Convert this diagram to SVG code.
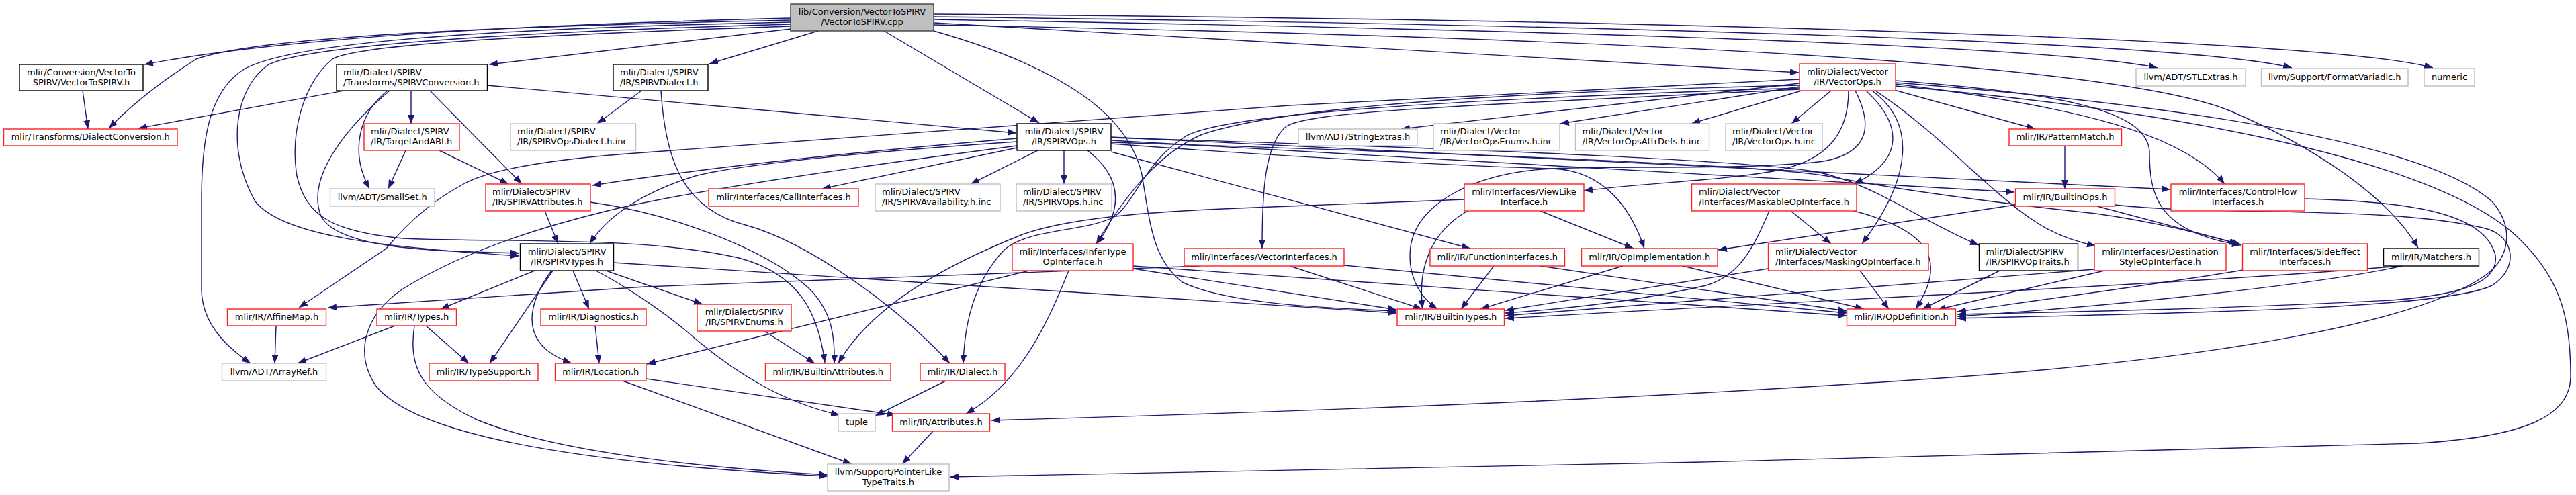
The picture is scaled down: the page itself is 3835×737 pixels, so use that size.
<svg xmlns="http://www.w3.org/2000/svg" width="3835" height="737" viewBox="0 0 3835 737">
<style>
.e path{fill:none;stroke:#191970;stroke-width:1.4;marker-end:url(#ah)}
rect{fill:#fff;stroke-width:1.4}
.k rect{stroke:#000}
.r rect{stroke:#ff2020}
.g rect{stroke:#bfbfbf}
.t rect{fill:#bfbfbf;stroke:#404040}
text{font-family:"DejaVu Sans","Liberation Sans",sans-serif;font-size:13px;fill:#000}
.c{text-anchor:middle}
</style>
<defs>
<marker id="ah" markerUnits="userSpaceOnUse" markerWidth="13" markerHeight="10" refX="13" refY="5" orient="auto">
<path d="M0,0 L13,5 L0,10 z" fill="#191970"/>
</marker>
</defs>
<rect x="0" y="0" width="3835" height="737" style="fill:#fff;stroke:none"/>
<g id="edges" class="e">
<path d="M1177,27 C800,36 420,56 215,96"/>
<path d="M1177,30 C700,40 380,56 292,88 C245,118 200,152 162,191"/>
<path d="M1177,43 L728,96"/>
<path d="M1218,46 L1056,95"/>
<path d="M1316,46 L1547,183"/>
<path d="M1390,34 L2678,108"/>
<path d="M1390,29 C2300,44 3060,68 3212,101"/>
<path d="M1390,25 C2400,37 3260,62 3412,101"/>
<path d="M1390,21 C2500,30 3470,58 3622,101"/>
<path d="M1390,37 C2400,56 3140,92 3320,165 C3460,225 3560,300 3600,369"/>
<path d="M1177,33 C650,44 430,68 365,102 C310,135 300,210 300,300 L300,430 C300,480 335,515 373,541"/>
<path d="M1177,36 C680,50 450,72 400,96 C350,130 335,220 380,300 C420,350 560,368 773,381"/>
<path d="M1177,39 C700,55 525,70 495,88 C450,125 432,200 442,262 C456,322 495,345 600,355 C750,362 950,350 1100,384 C1190,408 1218,465 1228,540"/>
<path d="M1390,46 C1580,100 1680,170 1700,260 C1712,330 1715,385 1760,420 C1820,450 1950,458 2079,463"/>
<path d="M512,135 L206,191"/>
<path d="M612,135 L612,184"/>
<path d="M577,135 C535,168 520,225 550,281"/>
<path d="M640,135 L777,274"/>
<path d="M725,127 L1513,198"/>
<path d="M580,135 C515,190 455,265 478,322 C505,372 650,374 773,377"/>
<path d="M123,135 L131,192"/>
<path d="M955,135 L889,184"/>
<path d="M984,135 C990,230 1012,310 1110,335 C1200,360 1330,450 1414,541"/>
<path d="M604,224 L578,281"/>
<path d="M654,224 L757,274"/>
<path d="M811,314 L831,363"/>
<path d="M879,301 C1000,318 1140,370 1205,430 C1240,465 1243,505 1242,541"/>
<path d="M796,403 L656,460"/>
<path d="M823,403 L729,541"/>
<path d="M821,403 C790,445 778,492 815,522 C828,532 840,537 851,541"/>
<path d="M853,403 L877,460"/>
<path d="M902,403 L1046,453"/>
<path d="M887,403 C930,425 990,465 1030,500 C1100,560 1170,600 1250,618"/>
<path d="M913,391 L2079,466"/>
<path d="M588,485 L443,541"/>
<path d="M634,485 L698,541"/>
<path d="M617,485 C608,545 625,585 710,625 C820,670 1020,695 1232,707"/>
<path d="M411,485 L409,541"/>
<path d="M886,485 L892,541"/>
<path d="M927,567 L1268,691"/>
<path d="M962,564 L1334,618"/>
<path d="M1138,493 L1213,541"/>
<path d="M1389,642 L1343,691"/>
<path d="M1408,567 L1303,619"/>
<path d="M1532,403 L963,542"/>
<path d="M1591,403 C1560,480 1520,570 1438,616"/>
<path d="M1687,400 L2079,461"/>
<path d="M1687,396 L2749,470"/>
<path d="M1787,396 L960,427 L488,458"/>
<path d="M1920,396 L2117,460"/>
<path d="M2001,395 L2749,466"/>
<path d="M1514,206 C1250,228 1050,250 882,276"/>
<path d="M1514,211 C1300,225 1100,245 1035,262 C960,285 905,320 878,363"/>
<path d="M1514,220 L1224,281"/>
<path d="M1545,224 L1445,274"/>
<path d="M1584,224 L1584,274"/>
<path d="M1619,224 C1672,265 1672,312 1633,363"/>
<path d="M1514,217 C1200,258 1000,290 900,315 C790,342 680,380 600,430 C540,470 528,530 560,575 C625,655 900,692 1232,709"/>
<path d="M1654,205 C2300,225 2600,240 2700,255 C2790,272 2860,330 2946,365"/>
<path d="M1654,204 L3231,282"/>
<path d="M1654,209 L2999,286"/>
<path d="M1654,212 C2300,232 2640,248 2720,262 C2800,278 2950,300 3120,318 C3220,332 3290,352 3336,364"/>
<path d="M1654,226 L2189,370"/>
<path d="M1654,214 C1950,236 2200,248 2312,251 C2380,254 2425,300 2448,370"/>
<path d="M2679,124 L2086,192"/>
<path d="M2679,129 L2323,184"/>
<path d="M2682,135 L2518,184"/>
<path d="M2726,135 L2667,184"/>
<path d="M2679,118 L1920,157 L960,227 C830,236 735,250 692,273 C640,300 600,340 575,370 L445,458"/>
<path d="M2679,127 C2100,140 1880,170 1790,200 C1720,230 1670,300 1632,363"/>
<path d="M2679,131 C2150,148 1820,170 1765,203 C1705,240 1690,300 1660,322 C1620,345 1530,340 1495,372 C1450,420 1436,480 1434,541"/>
<path d="M2679,133 C2100,160 1950,168 1915,188 C1882,215 1879,290 1879,370"/>
<path d="M2752,135 C2752,200 2720,240 2640,255 C2550,270 2450,272 2358,284"/>
<path d="M2762,135 C2790,190 2780,228 2715,240 C2600,254 2400,246 2312,251 C2200,256 2110,300 2100,367 C2095,405 2110,440 2140,460"/>
<path d="M2778,135 C2832,185 2836,238 2760,274"/>
<path d="M2787,135 C2852,182 2848,262 2772,363"/>
<path d="M2792,135 C2890,200 2960,285 3030,330 C3060,350 3090,360 3120,366"/>
<path d="M2820,134 L3030,192"/>
<path d="M2822,120 C3050,138 3195,160 3200,225 C3200,290 3210,345 3336,365"/>
<path d="M2822,125 C3100,160 3250,200 3312,274"/>
<path d="M2822,123 C3300,160 3620,220 3710,300 C3745,340 3735,385 3700,410 C3600,480 3300,535 2875,564 C2500,590 2100,608 1476,626"/>
<path d="M2822,128 C3300,170 3650,250 3755,360 C3815,420 3827,480 3827,560 C3827,620 3760,650 3600,660 C3000,680 2000,700 1414,710"/>
<path d="M2293,314 L2432,370"/>
<path d="M2185,314 C2130,345 2110,400 2118,460"/>
<path d="M2180,297 L1920,307 C1750,313 1600,320 1520,350 C1420,390 1300,450 1248,541"/>
<path d="M2666,314 L2726,363"/>
<path d="M2760,314 C2860,340 2905,380 2852,460"/>
<path d="M2634,314 C2610,370 2590,410 2540,425 C2440,448 2330,460 2241,466"/>
<path d="M2632,400 L2241,462"/>
<path d="M2769,403 L2812,460"/>
<path d="M2224,396 L2175,460"/>
<path d="M2293,396 L2749,463"/>
<path d="M2416,396 L2204,460"/>
<path d="M2505,396 L2775,460"/>
<path d="M3074,217 L3074,281"/>
<path d="M3000,305 L2558,372"/>
<path d="M3122,307 L3332,363"/>
<path d="M3148,305 C3300,322 3550,305 3700,340 C3745,352 3750,400 3710,425 C3640,460 3250,466 2914,474"/>
<path d="M3431,296 C3600,300 3700,320 3715,380 C3720,415 3680,438 3560,447 C3300,460 3100,464 2914,468"/>
<path d="M2977,403 L2862,460"/>
<path d="M3133,403 L2884,461"/>
<path d="M3118,401 C2900,420 2600,442 2241,470"/>
<path d="M3340,402 C3200,425 3050,445 2914,464"/>
<path d="M3573,396 C3300,420 2800,442 2241,474"/>
<path d="M3576,396 C3480,418 3200,452 2914,471"/>
</g>
<g id="n_top" class="t"><rect x="1177" y="6" width="213" height="40"/><text class="c" x="1283.5" y="22">lib/Conversion/VectorToSPIRV</text><text class="c" x="1283.5" y="37">/VectorToSPIRV.cpp</text></g>
<g id="n_v2sh" class="k"><rect x="29" y="96" width="184" height="39"/><text class="c" x="121" y="111.5">mlir/Conversion/VectorTo</text><text class="c" x="121" y="126.5">SPIRV/VectorToSPIRV.h</text></g>
<g id="n_dconv" class="r"><rect x="5.5" y="192" width="258.5" height="25"/><text class="c" x="134.75" y="208">mlir/Transforms/DialectConversion.h</text></g>
<g id="n_spconv" class="k"><rect x="501" y="96" width="224.5" height="39"/><text x="511" y="111.5">mlir/Dialect/SPIRV</text><text x="511" y="126.5">/Transforms/SPIRVConversion.h</text></g>
<g id="n_spdial" class="k"><rect x="913" y="96" width="141" height="39"/><text x="923" y="111.5">mlir/Dialect/SPIRV</text><text x="923" y="126.5">/IR/SPIRVDialect.h</text></g>
<g id="n_tabi" class="r"><rect x="542" y="184" width="142" height="40"/><text x="552" y="200">mlir/Dialect/SPIRV</text><text x="552" y="215">/IR/TargetAndABI.h</text></g>
<g id="n_opsdial" class="g"><rect x="760" y="184" width="186.5" height="40"/><text x="770" y="200">mlir/Dialect/SPIRV</text><text x="770" y="215">/IR/SPIRVOpsDialect.h.inc</text></g>
<g id="n_smallset" class="g"><rect x="491.5" y="281" width="155.5" height="26"/><text class="c" x="569.25" y="297.5">llvm/ADT/SmallSet.h</text></g>
<g id="n_spattr" class="r"><rect x="723" y="274" width="156" height="40"/><text x="733" y="290">mlir/Dialect/SPIRV</text><text x="733" y="305">/IR/SPIRVAttributes.h</text></g>
<g id="n_sptypes" class="k"><rect x="774.5" y="363" width="139" height="40"/><text class="c" x="844" y="379">mlir/Dialect/SPIRV</text><text class="c" x="844" y="394">/IR/SPIRVTypes.h</text></g>
<g id="n_affine" class="r"><rect x="338.5" y="460" width="147" height="25"/><text class="c" x="412" y="476">mlir/IR/AffineMap.h</text></g>
<g id="n_types" class="r"><rect x="561" y="460" width="118.5" height="25"/><text class="c" x="620.25" y="476">mlir/IR/Types.h</text></g>
<g id="n_diag" class="r"><rect x="805" y="460" width="157" height="25"/><text class="c" x="883.5" y="476">mlir/IR/Diagnostics.h</text></g>
<g id="n_arrayref" class="g"><rect x="330.5" y="541" width="155" height="26"/><text class="c" x="408" y="557.5">llvm/ADT/ArrayRef.h</text></g>
<g id="n_typesup" class="r"><rect x="639" y="541" width="162" height="26"/><text class="c" x="720" y="557.5">mlir/IR/TypeSupport.h</text></g>
<g id="n_loc" class="r"><rect x="826.5" y="541" width="135.5" height="26"/><text class="c" x="894.25" y="557.5">mlir/IR/Location.h</text></g>
<g id="n_enums" class="r"><rect x="1038" y="453" width="140" height="40"/><text class="c" x="1108" y="469">mlir/Dialect/SPIRV</text><text class="c" x="1108" y="484">/IR/SPIRVEnums.h</text></g>
<g id="n_battr" class="r"><rect x="1139.5" y="541" width="186.5" height="26"/><text class="c" x="1232.75" y="557.5">mlir/IR/BuiltinAttributes.h</text></g>
<g id="n_dialect" class="r"><rect x="1370" y="541" width="126" height="26"/><text class="c" x="1433" y="557.5">mlir/IR/Dialect.h</text></g>
<g id="n_tuple" class="g"><rect x="1248" y="616" width="55" height="26"/><text class="c" x="1275.5" y="632.5">tuple</text></g>
<g id="n_attr" class="r"><rect x="1328.5" y="616" width="145" height="26"/><text class="c" x="1401" y="632.5">mlir/IR/Attributes.h</text></g>
<g id="n_ptr" class="g"><rect x="1232" y="691" width="181" height="40"/><text class="c" x="1322.5" y="707">llvm/Support/PointerLike</text><text class="c" x="1322.5" y="722">TypeTraits.h</text></g>
<g id="n_infer" class="r"><rect x="1507" y="363" width="180" height="40"/><text class="c" x="1597" y="379">mlir/Interfaces/InferType</text><text class="c" x="1597" y="394">OpInterface.h</text></g>
<g id="n_vecif" class="r"><rect x="1763" y="370" width="238" height="26"/><text class="c" x="1882" y="386.5">mlir/Interfaces/VectorInterfaces.h</text></g>
<g id="n_spops" class="k"><rect x="1514" y="184" width="140" height="40"/><text class="c" x="1584" y="200">mlir/Dialect/SPIRV</text><text class="c" x="1584" y="215">/IR/SPIRVOps.h</text></g>
<g id="n_call" class="r"><rect x="1055" y="281" width="223" height="26"/><text class="c" x="1166.5" y="297.5">mlir/Interfaces/CallInterfaces.h</text></g>
<g id="n_avail" class="g"><rect x="1303" y="274" width="186" height="40"/><text x="1313" y="290">mlir/Dialect/SPIRV</text><text x="1313" y="305">/IR/SPIRVAvailability.h.inc</text></g>
<g id="n_opsinc" class="g"><rect x="1513" y="274" width="142" height="40"/><text x="1523" y="290">mlir/Dialect/SPIRV</text><text x="1523" y="305">/IR/SPIRVOps.h.inc</text></g>
<g id="n_vops" class="r"><rect x="2679" y="95" width="143" height="40"/><text class="c" x="2750.5" y="111">mlir/Dialect/Vector</text><text class="c" x="2750.5" y="126">/IR/VectorOps.h</text></g>
<g id="n_strx" class="g"><rect x="1933" y="192" width="177" height="25"/><text class="c" x="2021.5" y="208">llvm/ADT/StringExtras.h</text></g>
<g id="n_venum" class="g"><rect x="2134" y="184" width="188" height="40"/><text x="2144" y="200">mlir/Dialect/Vector</text><text x="2144" y="215">/IR/VectorOpsEnums.h.inc</text></g>
<g id="n_vattr" class="g"><rect x="2345.5" y="184" width="199" height="40"/><text x="2355.5" y="200">mlir/Dialect/Vector</text><text x="2355.5" y="215">/IR/VectorOpsAttrDefs.h.inc</text></g>
<g id="n_vopsinc" class="g"><rect x="2569" y="184" width="144" height="40"/><text x="2579" y="200">mlir/Dialect/Vector</text><text x="2579" y="215">/IR/VectorOps.h.inc</text></g>
<g id="n_viewlike" class="r"><rect x="2180" y="274" width="178" height="40"/><text class="c" x="2269" y="290">mlir/Interfaces/ViewLike</text><text class="c" x="2269" y="305">Interface.h</text></g>
<g id="n_maskable" class="r"><rect x="2518.5" y="274" width="245.5" height="40"/><text x="2529" y="290">mlir/Dialect/Vector</text><text x="2529" y="305">/Interfaces/MaskableOpInterface.h</text></g>
<g id="n_funcif" class="r"><rect x="2129" y="370" width="200.5" height="26"/><text class="c" x="2229.25" y="386.5">mlir/IR/FunctionInterfaces.h</text></g>
<g id="n_opimpl" class="r"><rect x="2354.5" y="370" width="202.5" height="26"/><text class="c" x="2455.75" y="386.5">mlir/IR/OpImplementation.h</text></g>
<g id="n_masking" class="r"><rect x="2632.5" y="363" width="238.5" height="40"/><text x="2643" y="379">mlir/Dialect/Vector</text><text x="2643" y="394">/Interfaces/MaskingOpInterface.h</text></g>
<g id="n_btypes" class="r"><rect x="2080" y="460" width="159.5" height="25"/><text class="c" x="2159.75" y="476">mlir/IR/BuiltinTypes.h</text></g>
<g id="n_opdef" class="r"><rect x="2749.5" y="460" width="162" height="25"/><text class="c" x="2830.5" y="476">mlir/IR/OpDefinition.h</text></g>
<g id="n_stlx" class="g"><rect x="3180" y="102" width="163" height="26"/><text class="c" x="3261.5" y="118.5">llvm/ADT/STLExtras.h</text></g>
<g id="n_fmtv" class="g"><rect x="3366.5" y="102" width="218.5" height="26"/><text class="c" x="3475.75" y="118.5">llvm/Support/FormatVariadic.h</text></g>
<g id="n_numeric" class="g"><rect x="3609" y="102" width="75" height="26"/><text class="c" x="3646.5" y="118.5">numeric</text></g>
<g id="n_pmatch" class="r"><rect x="2991" y="192" width="167.5" height="25"/><text class="c" x="3074.75" y="208">mlir/IR/PatternMatch.h</text></g>
<g id="n_bops" class="r"><rect x="3000.5" y="281" width="148" height="26"/><text class="c" x="3074.5" y="297.5">mlir/IR/BuiltinOps.h</text></g>
<g id="n_cflow" class="r"><rect x="3232" y="274" width="199" height="40"/><text class="c" x="3331.5" y="290">mlir/Interfaces/ControlFlow</text><text class="c" x="3331.5" y="305">Interfaces.h</text></g>
<g id="n_optraits" class="k"><rect x="2946.5" y="363" width="147" height="40"/><text x="2956.5" y="379">mlir/Dialect/SPIRV</text><text x="2956.5" y="394">/IR/SPIRVOpTraits.h</text></g>
<g id="n_dest" class="r"><rect x="3118" y="363" width="196" height="40"/><text class="c" x="3216" y="379">mlir/Interfaces/Destination</text><text class="c" x="3216" y="394">StyleOpInterface.h</text></g>
<g id="n_sideeff" class="r"><rect x="3338.5" y="363" width="186" height="40"/><text class="c" x="3431.5" y="379">mlir/Interfaces/SideEffect</text><text class="c" x="3431.5" y="394">Interfaces.h</text></g>
<g id="n_matchers" class="k"><rect x="3548.5" y="370" width="142" height="26"/><text class="c" x="3619.5" y="386.5">mlir/IR/Matchers.h</text></g>
</svg>
